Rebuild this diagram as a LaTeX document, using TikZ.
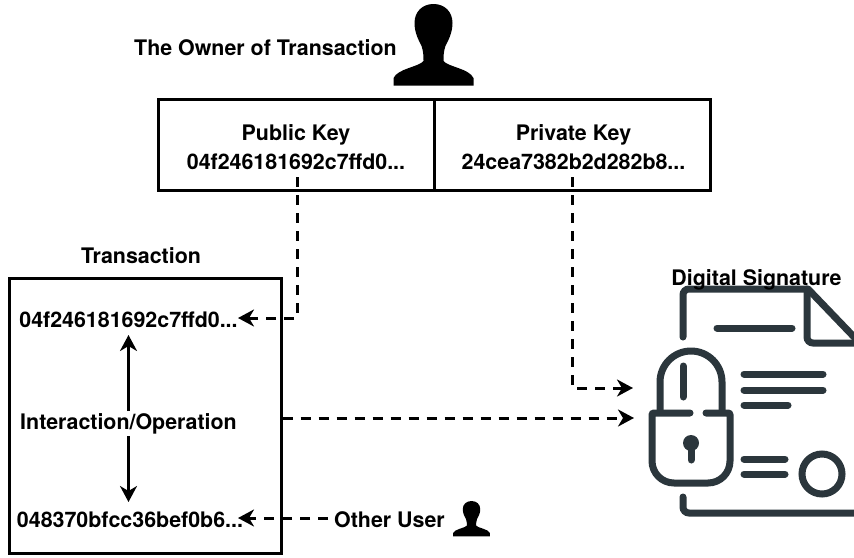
\documentclass[tikz,border=0pt]{standalone}
\usepackage{fontspec}
\setmainfont{TeX Gyre Heros}
\usetikzlibrary{arrows.meta,positioning}
\definecolor{icondark}{HTML}{2B363C}
\tikzset{
    %Define standard arrow tip
    >={Stealth[length=16pt,width=17pt,inset=5pt]},
    %Define style for boxes and labels
    keybox/.style={rectangle, draw=black, line width=3pt, minimum width=276pt, minimum height=91pt, align=center, inner sep=0pt},
    label/.style={font=\fontsize{21.4}{29}\selectfont\bfseries, inner sep=0pt, align=center},
    dashline/.style={line width=3pt, dash pattern=on 10pt off 8pt},
    solidline/.style={line width=2.6pt},
    iconline/.style={draw=icondark, line width=7pt, line cap=round, rounded corners=6pt},
    person/.pic={
        \fill (0,0) .. controls (-11,0) and (-19,8) .. (-19,20)
            .. controls (-19,30) and (-15,38) .. (-12,44)
            .. controls (-10,50) and (-10,56) .. (-10,60)
            .. controls (-14,66) and (-36,68) .. (-40,78)
            -- (-40,86) -- (40,86) -- (40,78)
            .. controls (36,68) and (14,66) .. (10,60)
            .. controls (10,56) and (10,50) .. (12,44)
            .. controls (15,38) and (19,30) .. (19,20)
            .. controls (19,8) and (11,0) .. (0,0) -- cycle;
    },
}
\begin{document}
\begin{tikzpicture}[x=1pt,y=-1pt]
    \useasboundingbox (0,0) rectangle (854,557);

    %Signature icon
    \draw[iconline] (683,337) -- (683,289) -- (808,289);
    \draw[iconline, rounded corners=0pt, line cap=butt] (808,289) -- (856,339);
    \draw[iconline] (807,289) -- (807,343) -- (854,343);
    \draw[iconline] (717,328) -- (792,328);
    \draw[iconline] (744,374) -- (823,374);
    \draw[iconline] (744,390) -- (823,390);
    \draw[iconline] (744,405) -- (788,405);
    \draw[iconline, rounded corners=0pt, line cap=butt] (660,412) -- (660,382) arc[start angle=180, end angle=360, radius=31] -- (722,412);
    \draw[iconline] (683,366) -- (683,397);
    \draw[iconline, rounded corners=2pt] (690,413) -- (652,413) [rounded corners=22pt] -- (652,483) -- (730,483) [rounded corners=2pt] -- (730,413) -- (706,413);
    \fill[icondark] (691,443) circle[radius=8];
    \draw[iconline] (691,445) -- (691,460);
    \draw[iconline] (744,459) -- (785,459);
    \draw[iconline] (744,474) -- (785,474);
    \draw[iconline] (822,474) circle[radius=20];
    \draw[iconline] (683,497) -- (683,513) -- (854,513);

    %People
    \pic[xscale=1,yscale=0.95] at (433.5,4) {person};
    \pic[xscale=0.46,yscale=0.41] at (471.5,501) {person};

    %Nodes
    \node[keybox](pubkey) at (296,145) {};
    \node[keybox](privkey) at (572,145) {};
    \node[keybox, minimum width=272pt, minimum height=275pt](txbox) at (145,415.5) {};

    \node[label](owner) at (265.5,48) {The Owner of Transaction};
    \node[label](pubtext) at (296,147.5) {Public Key\\04f246181692c7ffd0...};
    \node[label](privtext) at (573.5,147.5) {Private Key\\24cea7382b2d282b8...};
    \node[label](txlabel) at (141,256) {Transaction};
    \node[label](txfrom) at (128.5,320) {04f246181692c7ffd0...};
    \node[label, inner ysep=2pt](txop) at (128.5,423.5) {Interaction/Operation};
    \node[label](txto) at (130,520) {048370bfcc36bef0b6...};
    \node[label, inner xsep=6pt](otheruser) at (389.5,520) {Other User};
    \node[label](sign) at (756.5,279.5) {Digital Signature};

    %Free ends of the dashed lines
    \coordinate (pubout) at (297,177);
    \coordinate (privout) at (572,177);
    \coordinate (fromin) at (238,318);
    \coordinate (toin) at (238,518);
    \coordinate (signa) at (633,388);
    \coordinate (signb) at (634,418);

    %Connectors
    \draw[dashline, ->] (pubout) |- (fromin);
    \draw[dashline, ->] (privout) |- (signa);
    \draw[dashline, ->] (txbox.east |- signb) -- (signb);
    \draw[dashline, ->] (otheruser.west |- toin) -- (toin);
    \draw[solidline, ->] (txop.north) -- (128.5,335);
    \draw[solidline, ->] (txop.south) -- (128.5,502);
\end{tikzpicture}
\end{document}
